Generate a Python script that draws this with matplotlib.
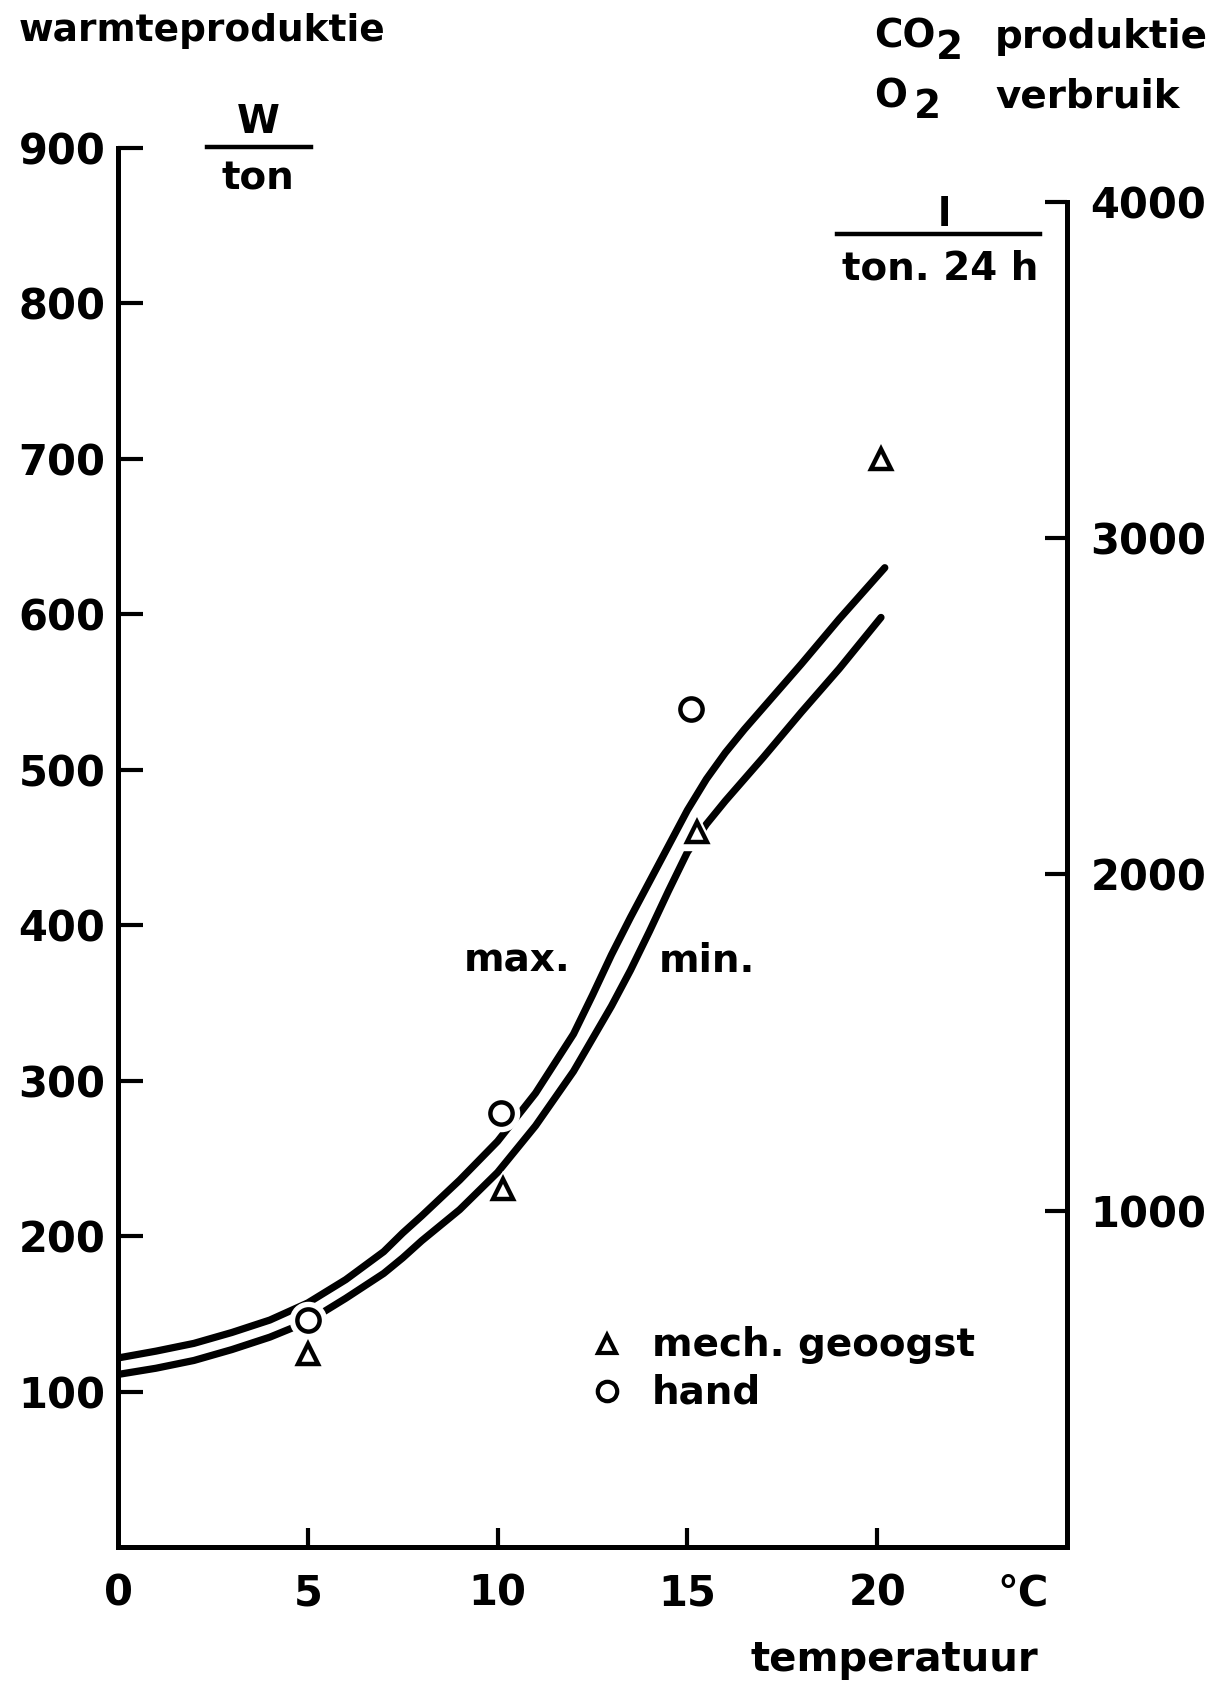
#!/usr/bin/env python3
# -*- coding: utf-8 -*-
"""Warmteproduktie / CO2 produktie vs temperatuur (scan recreation)."""

import matplotlib
matplotlib.use("Agg")
import matplotlib.pyplot as plt

# --- curves (W/ton) ---
t_max = [0, 1, 2, 3, 4, 5, 6, 7, 7.5, 8, 9, 10, 11, 12, 12.5, 13, 13.5,
         14, 14.5, 15, 15.5, 16, 16.5, 17, 18, 19, 20.2]
w_max = [121.6, 126, 131, 138, 146, 157, 172, 190, 202, 213, 236, 261, 292,
         330, 355, 381, 405, 428, 451, 474, 494, 511, 526, 540, 568, 597, 630]

t_min = [0, 1, 2, 2.5, 3, 4, 5, 6, 7, 7.5, 8, 9, 10, 11, 12, 12.5, 13, 13.5,
         14, 14.5, 15, 15.5, 16, 16.5, 17, 18, 19, 20.1]
w_min = [111, 115, 120, 123.5, 127, 135, 145, 160, 176, 186, 197, 217, 241,
         271, 306, 327, 348, 371, 396, 422, 447, 465, 480, 494, 508, 537, 565,
         598]

# --- measured points ---
t_hand = [5.0, 10.1, 15.1]
w_hand = [146, 279, 539]
t_mech = [5.0, 10.15, 15.25, 20.1]
w_mech = [124, 230, 460, 700]

x_ticks = [0, 5, 10, 15, 20]
y_ticks = [100, 200, 300, 400, 500, 600, 700, 800, 900]
r_ticks = [1000, 2000, 3000, 4000]

W, H = 1227, 1682
FS = 28
TICK_FS = 30

plt.rcParams["font.family"] = ["DejaVu Sans"]
plt.rcParams["font.weight"] = "bold"


def px(x, y):
    return x / W, 1 - y / H


def main():
    fig = plt.figure(figsize=(W / 100, H / 100), dpi=100)
    ax = fig.add_axes([118 / W, (H - 1547) / H, (1067 - 118) / W, (1547 - 148) / H])

    # curves
    ax.plot(t_max, w_max, color="black", lw=5.2, solid_capstyle="round", zorder=2)
    ax.plot(t_min, w_min, color="black", lw=5.2, solid_capstyle="round", zorder=2)

    # white halo under markers to break the lines like the drawing
    ax.plot(t_hand, w_hand, "o", ms=26, mfc="white", mec="white", zorder=3)
    ax.plot(t_mech, w_mech, "^", ms=26, mfc="white", mec="white", zorder=3)
    ax.plot(t_hand, w_hand, "o", ms=16, mfc="white", mec="black", mew=3.2, zorder=4)
    ax.plot(t_mech, w_mech, "^", ms=15, mfc="white", mec="black", mew=3.2, zorder=4)

    ax.set_xlim(0, 25)
    ax.set_ylim(0, 900)

    for s in ["top", "right"]:
        ax.spines[s].set_visible(False)
    ax.spines["left"].set_linewidth(3.6)
    ax.spines["bottom"].set_linewidth(3.6)
    ax.spines["left"].set_bounds(0, 900)

    ax.set_xticks(x_ticks)
    ax.set_xticklabels([str(v) for v in x_ticks])
    ax.set_yticks(y_ticks)
    ax.set_yticklabels([str(v) for v in y_ticks])
    ax.tick_params(axis="x", direction="in", length=14, width=3, pad=18,
                   labelsize=TICK_FS)
    ax.tick_params(axis="y", direction="in", length=18, width=3, pad=9,
                   labelsize=TICK_FS)
    ax.xaxis.get_major_ticks()[0].tick1line.set_visible(False)

    # right axis: l / ton.24h
    ax_r = ax.twinx()
    ax_r.set_ylim(0, 4160)
    for s in ["top", "left", "bottom"]:
        ax_r.spines[s].set_visible(False)
    ax_r.spines["right"].set_linewidth(3.6)
    ax_r.spines["right"].set_bounds(0, 4000)
    ax_r.set_yticks(r_ticks)
    ax_r.set_yticklabels([str(v) for v in r_ticks])
    ax_r.tick_params(axis="y", direction="in", length=16, width=3, pad=17,
                     labelsize=TICK_FS)

    # axis titles and units
    fig.text(*px(19, 13), "warmteproduktie", fontsize=27, va="top", ha="left")
    fig.text(*px(258, 122), "W", fontsize=FS, ha="center", va="center")
    fig.add_artist(plt.Line2D([207 / W, 311 / W], [1 - 147 / H] * 2,
                              color="black", lw=3.2))
    fig.text(*px(258, 178), "ton", fontsize=FS, ha="center", va="center")

    fig.text(*px(874, 37), "CO", fontsize=FS, ha="left", va="center")
    fig.text(*px(936, 48), "2", fontsize=FS, ha="left", va="center")
    fig.text(*px(995, 37), "produktie", fontsize=FS, ha="left", va="center")
    fig.text(*px(874, 96), "O", fontsize=FS, ha="left", va="center")
    fig.text(*px(914, 107), "2", fontsize=FS, ha="left", va="center")
    fig.text(*px(995, 96), "verbruik", fontsize=FS, ha="left", va="center")

    fig.text(*px(944, 215), "l", fontsize=FS, ha="center", va="center")
    fig.add_artist(plt.Line2D([837 / W, 1040 / W], [1 - 234 / H] * 2,
                              color="black", lw=3.2))
    fig.text(*px(940, 269), "ton. 24 h", fontsize=FS, ha="center", va="center")

    fig.text(*px(464, 960), "max.", fontsize=FS, ha="left", va="center")
    fig.text(*px(659, 961), "min.", fontsize=FS, ha="left", va="center")

    # legend, drawn by hand like the original
    fig.text(*px(652, 1345), "mech. geoogst", fontsize=FS, ha="left", va="center")
    fig.text(*px(652, 1392), "hand", fontsize=FS, ha="left", va="center")
    fig.add_artist(plt.Line2D([607 / W], [1 - 1344 / H], marker="^", ms=13,
                              mfc="white", mec="black", mew=3))
    fig.add_artist(plt.Line2D([607 / W], [1 - 1391 / H], marker="o", ms=14,
                              mfc="white", mec="black", mew=3))

    fig.text(*px(1023, 1593), "°C", fontsize=TICK_FS, ha="center", va="center")
    fig.text(*px(1038, 1660), "temperatuur", fontsize=29, ha="right", va="center")

    fig.savefig("out.png", dpi=100, facecolor="white")
    plt.close(fig)


if __name__ == "__main__":
    main()
